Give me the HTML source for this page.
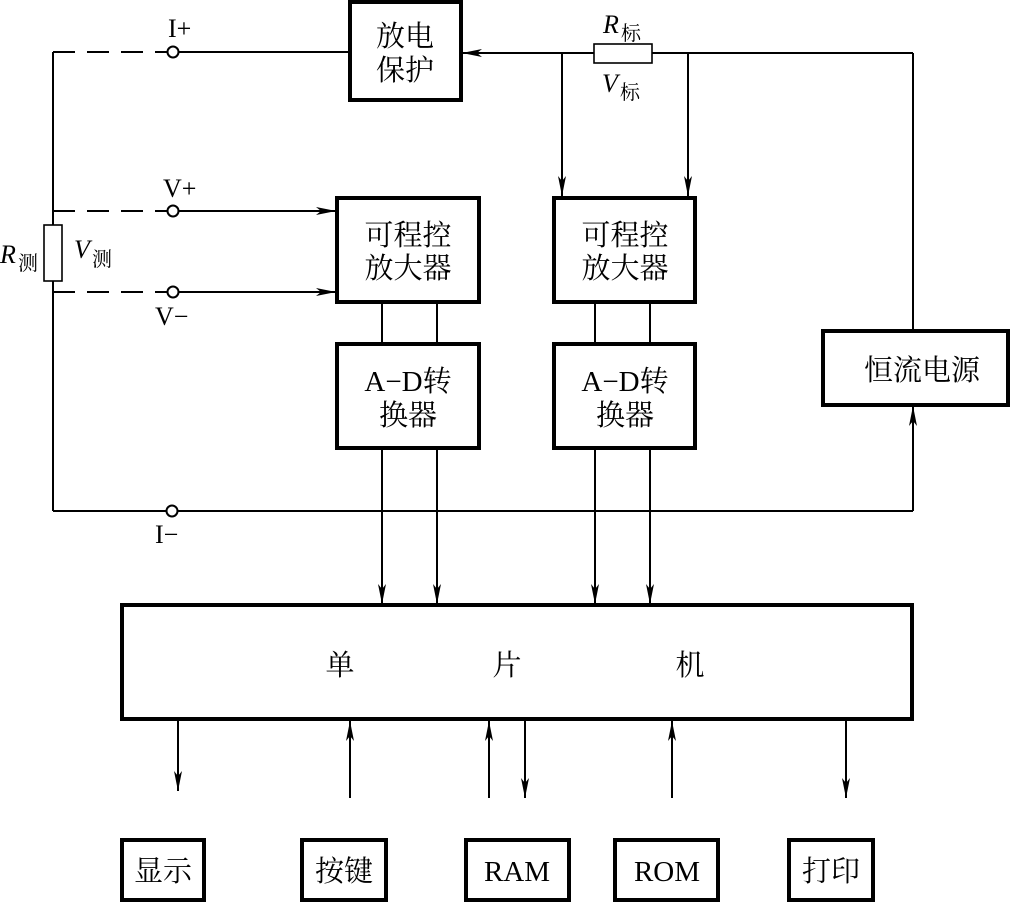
<!DOCTYPE html>
<html><head><meta charset="utf-8"><style>
html,body{margin:0;padding:0;background:#fff;}
svg{display:block;}
text{font-family:"Liberation Serif","Noto Serif CJK SC","Noto Sans CJK SC",serif;fill:#000;}
</style></head><body>
<svg width="1011" height="902" viewBox="0 0 1011 902" xmlns="http://www.w3.org/2000/svg">
<defs>
<marker id="a" viewBox="0 0 20 10" refX="20" refY="5" markerWidth="20" markerHeight="10" markerUnits="userSpaceOnUse" orient="auto">
<path d="M0,1 L20,5 L0,9 L5,5 Z" fill="#000"/>
</marker>
</defs>
<g stroke="#000" fill="none" stroke-width="2">
<!-- left vertical -->
<line x1="53" y1="52" x2="53" y2="225"/>
<line x1="53" y1="281" x2="53" y2="511"/>
<rect x="44" y="225" width="18" height="56" stroke-width="1.6"/>
<!-- dashed lines -->
<line x1="53" y1="52" x2="168" y2="52" stroke-dasharray="22,12"/>
<line x1="53" y1="211" x2="168" y2="211" stroke-dasharray="22,12"/>
<line x1="53" y1="292" x2="168" y2="292" stroke-dasharray="22,12"/>
<circle cx="173" cy="52" r="5.5"/>
<circle cx="173" cy="211" r="5.5"/>
<circle cx="173" cy="292" r="5.5"/>
<circle cx="172" cy="511" r="5.5"/>
<line x1="179" y1="52" x2="349" y2="52"/>
<line x1="179" y1="211" x2="336" y2="211" marker-end="url(#a)"/>
<line x1="179" y1="292" x2="336" y2="292" marker-end="url(#a)"/>
<line x1="53" y1="511" x2="166" y2="511"/>
<line x1="178" y1="511" x2="913" y2="511"/>
<line x1="913" y1="511" x2="913" y2="406" marker-end="url(#a)"/>
<!-- top right -->
<line x1="594" y1="53" x2="462" y2="53" marker-end="url(#a)"/>
<rect x="594" y="44" width="58" height="19" stroke-width="1.6"/>
<line x1="652" y1="53" x2="913" y2="53"/>
<line x1="913" y1="53" x2="913" y2="332"/>
<line x1="562" y1="53" x2="562" y2="196" marker-end="url(#a)"/>
<line x1="688" y1="53" x2="688" y2="196" marker-end="url(#a)"/>
<!-- amp to AD -->
<line x1="382" y1="302" x2="382" y2="344"/>
<line x1="437" y1="302" x2="437" y2="344"/>
<line x1="595" y1="302" x2="595" y2="344"/>
<line x1="650" y1="302" x2="650" y2="344"/>
<line x1="382" y1="449" x2="382" y2="604" marker-end="url(#a)"/>
<line x1="437" y1="449" x2="437" y2="604" marker-end="url(#a)"/>
<line x1="595" y1="449" x2="595" y2="604" marker-end="url(#a)"/>
<line x1="650" y1="449" x2="650" y2="604" marker-end="url(#a)"/>
<!-- bottom arrows -->
<line x1="151" y1="720" x2="151" y2="791" marker-end="url(#a)" transform="translate(27,0)"/>
<line x1="350" y1="798" x2="350" y2="721" marker-end="url(#a)"/>
<line x1="489" y1="798" x2="489" y2="721" marker-end="url(#a)"/>
<line x1="525" y1="720" x2="525" y2="798" marker-end="url(#a)"/>
<line x1="672" y1="798" x2="672" y2="721" marker-end="url(#a)"/>
<line x1="846" y1="720" x2="846" y2="798" marker-end="url(#a)"/>
</g>
<g stroke="#000" fill="#fff" stroke-width="4">
<rect x="350" y="2" width="111" height="98"/>
<rect x="337" y="198" width="142" height="104"/>
<rect x="554" y="198" width="141" height="104"/>
<rect x="337" y="344" width="142" height="104"/>
<rect x="554" y="344" width="141" height="104"/>
<rect x="823" y="331" width="185" height="74"/>
<rect x="122" y="605" width="790" height="114"/>
<rect x="122" y="840" width="82" height="60"/>
<rect x="302" y="840" width="84" height="60"/>
<rect x="466" y="840" width="103" height="60"/>
<rect x="615" y="840" width="103" height="60"/>
<rect x="789" y="840" width="84" height="60"/>
</g>
<g font-size="29" text-anchor="middle">
<text x="405" y="46">放电</text>
<text x="405" y="80">保护</text>
<text x="408" y="245">可程控</text>
<text x="408" y="278">放大器</text>
<text x="625" y="245">可程控</text>
<text x="625" y="278">放大器</text>
<text x="408" y="391">A−D转</text>
<text x="408" y="425">换器</text>
<text x="625" y="391">A−D转</text>
<text x="625" y="425">换器</text>
<text x="922" y="380">恒流电源</text>
<text x="340" y="675">单</text>
<text x="507" y="675">片</text>
<text x="690" y="675">机</text>
<text x="163" y="881">显示</text>
<text x="344" y="881">按键</text>
<text x="517" y="881">RAM</text>
<text x="667" y="881">ROM</text>
<text x="831" y="881">打印</text>
</g>
<g font-size="26">
<text x="168" y="37">I+</text>
<text x="163" y="197">V+</text>
<text x="155" y="325">V−</text>
<text x="155" y="543">I−</text>
<text x="0" y="263" font-style="italic">R</text><text x="18" y="270" font-size="20">测</text>
<text x="74" y="258" font-style="italic">V</text><text x="92" y="266" font-size="20">测</text>
<text x="603" y="33" font-style="italic">R</text><text x="621" y="40" font-size="20">标</text>
<text x="602" y="92" font-style="italic">V</text><text x="620" y="99" font-size="20">标</text>
</g>
</svg>
</body></html>
